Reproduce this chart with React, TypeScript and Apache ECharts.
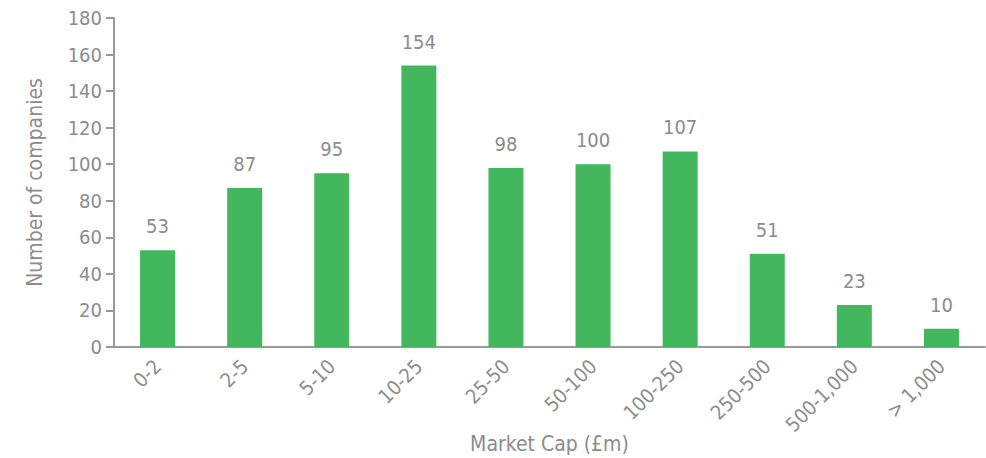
import React, { useEffect, useRef } from "react";
import * as echarts from "echarts";

const categories = ["0-2", "2-5", "5-10", "10-25", "25-50", "50-100", "100-250", "250-500", "500-1,000", "> 1,000"];
const companies = [53, 87, 95, 154, 98, 100, 107, 51, 23, 10];
const yTicks = { min: 0, max: 180, interval: 20 };

const FONT = "'DejaVu Sans Condensed', 'Liberation Sans Narrow', sans-serif";
const GREY = "#8c8c8c";
const GREEN = "#43b75e";

export default function App() {
  const ref = useRef<HTMLDivElement>(null);
  useEffect(() => {
    document.body.style.margin = "0";
    if (!ref.current) return;
    const chart = echarts.init(ref.current, undefined, { renderer: "svg" });
    chart.setOption({
      animation: false,
      textStyle: { fontFamily: FONT },
      grid: { left: 114, right: 1, top: 18, bottom: 111, containLabel: false, outerBoundsMode: "none" },
      xAxis: {
        type: "category",
        data: categories,
        axisLine: { lineStyle: { color: "#999", width: 2 } },
        axisTick: { show: false },
        axisLabel: { rotate: 45, color: GREY, fontSize: 20, fontFamily: FONT, margin: 16, interval: 0 },
        name: "Market Cap (£m)",
        nameLocation: "middle",
        nameMoveOverlap: false,
        nameGap: 86,
        nameTextStyle: { color: GREY, fontSize: 21, fontFamily: FONT },
      },
      yAxis: {
        type: "value",
        min: yTicks.min,
        max: yTicks.max,
        interval: yTicks.interval,
        axisLine: { show: true, lineStyle: { color: "#999", width: 2 } },
        axisTick: { show: true, length: 8, lineStyle: { color: "#999", width: 2 } },
        splitLine: { show: false },
        axisLabel: { color: GREY, fontSize: 20, fontFamily: FONT, margin: 12 },
        name: "Number of companies",
        nameLocation: "middle",
        nameRotate: 90,
        nameGap: 69,
        nameTextStyle: { color: GREY, fontSize: 21, fontFamily: FONT },
      },
      series: [
        {
          type: "bar",
          data: companies,
          barWidth: 35,
          itemStyle: { color: GREEN },
          label: { show: true, position: "top", distance: 14, color: GREY, fontSize: 20, fontFamily: FONT },
        },
      ],
    });
    return () => chart.dispose();
  }, []);
  return <div ref={ref} style={{ width: 986, height: 458 }} />;
}
